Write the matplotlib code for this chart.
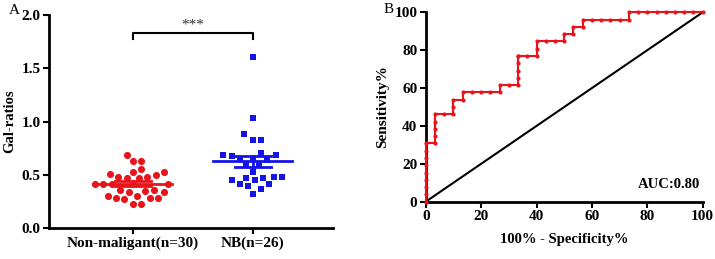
"""Gal-ratios scatter (A) and ROC curve (B)"""
import numpy as np
import matplotlib
matplotlib.use("Agg")
import matplotlib.pyplot as plt

plt.rcParams["font.family"] = ["Liberation Serif", "DejaVu Serif"]
plt.rcParams["font.weight"] = "bold"
plt.rcParams["axes.labelweight"] = "bold"

# panel A data
groups = ["Non-maligant(n=30)", "NB(n=26)"]
non_malignant = [0.69, 0.63, 0.63, 0.55, 0.53, 0.50, 0.48, 0.47, 0.47, 0.48,
                 0.51, 0.53, 0.41, 0.41, 0.41, 0.41, 0.41, 0.36, 0.34, 0.34,
                 0.35, 0.36, 0.30, 0.28, 0.27, 0.28, 0.28, 0.30, 0.23, 0.23]
nb = [1.61, 1.03, 0.88, 0.83, 0.83, 0.70, 0.69, 0.69, 0.68, 0.65, 0.64, 0.65,
      0.59, 0.59, 0.53, 0.48, 0.47, 0.45, 0.45, 0.47, 0.48, 0.41, 0.41, 0.37,
      0.39, 0.32]

# panel B data: ROC steps as counts (false positives of 30, true positives of 26)
n_ctrl, n_case = 30, 26
fp_count = [0, 0, 0, 0, 0, 0, 0, 0, 0, 1, 1, 1, 1, 1, 2, 3, 3, 3, 4, 4, 5, 6,
            7, 8, 8, 9, 10, 10, 10, 10, 10, 10, 11, 12, 12, 12, 13, 14, 15, 15,
            16, 16, 17, 17, 18, 19, 20, 21, 22, 22, 23, 24, 25, 26, 27, 28, 29,
            30]
tp_count = [0, 1, 2, 3, 4, 5, 6, 7, 8, 8, 9, 10, 11, 12, 12, 12, 13, 14, 14,
            15, 15, 15, 15, 15, 16, 16, 16, 17, 18, 19, 20, 20, 20, 20, 21, 22,
            22, 22, 22, 23, 23, 24, 24, 25, 25, 25, 25, 25, 25, 26, 26, 26, 26,
            26, 26, 26, 26, 26]
auc_text = "AUC:0.80"

RED = "#e8141c"
BLUE = "#1414e6"


def swarm(values, diam_px, px_per_x, px_per_y):
    """simple beeswarm offsets (in x data units)"""
    order = np.argsort(values)
    placed = []
    offs = np.zeros(len(values))
    step = diam_px / 4.0
    for i in order:
        y = values[i] * px_per_y
        best = None
        for k in range(0, 200):
            for cand in ([0.0] if k == 0 else [k * step, -k * step]):
                ok = all((cand - px) ** 2 + (y - py) ** 2 >= diam_px ** 2
                         for px, py in placed)
                if ok:
                    best = cand
                    break
            if best is not None:
                break
        placed.append((best, y))
        offs[i] = best / px_per_x
    return offs


fig = plt.figure(figsize=(7.15, 2.59), dpi=100)
axA = fig.add_axes([0.0685, 0.1197, 0.397, 0.822])
axB = fig.add_axes([0.5954, 0.2212, 0.3874, 0.7313])

for ax in (axA, axB):
    for s in ("top", "right"):
        ax.spines[s].set_visible(False)
    for s in ("left", "bottom"):
        ax.spines[s].set_linewidth(2)
    ax.tick_params(width=1.5, length=4, labelsize=11, pad=2)

# ---- panel A
for i, (vals, col, mk, sz) in enumerate([(non_malignant, RED, "o", 26),
                                          (nb, BLUE, "s", 20)]):
    vals = np.array(vals)
    xo = swarm(vals, 8.4, 120.0, 106.5)
    axA.scatter(i + xo, vals, s=sz, marker=mk, color=col, linewidths=0,
                zorder=3)
    m = vals.mean()
    sem = vals.std(ddof=1) / np.sqrt(len(vals))
    axA.plot([i - 0.33, i + 0.33], [m, m], color=col, lw=2, zorder=4)
    axA.plot([i, i], [m - sem, m + sem], color=col, lw=2, zorder=4)
    for v in (m - sem, m + sem):
        axA.plot([i - 0.15, i + 0.15], [v, v], color=col, lw=2, zorder=4)

axA.plot([0, 0, 1, 1], [1.78, 1.83, 1.83, 1.78], color="black", lw=1.5)
axA.text(0.5, 1.845, "***", ha="center", va="bottom", fontsize=11,
         color="#333333", fontweight="normal")
axA.set_xlim(-0.7, 1.67)
axA.set_ylim(0, 2.0)
axA.set_yticks([0, 0.5, 1.0, 1.5, 2.0])
axA.set_yticklabels(["0.0", "0.5", "1.0", "1.5", "2.0"])
axA.set_xticks([0, 1])
axA.set_xticklabels(groups, fontsize=11)
axA.set_ylabel("Gal-ratios", fontsize=10.5, labelpad=4)

# ---- panel B
fpr = np.array(fp_count) / n_ctrl * 100
tpr = np.array(tp_count) / n_case * 100
axB.plot([0, 100], [0, 100], color="black", lw=1.5, zorder=2)
axB.plot(fpr, tpr, color=RED, lw=1.5, marker="o", markersize=2.0,
         clip_on=False, zorder=3)
axB.set_xlim(0, 100)
axB.set_ylim(0, 100)
axB.set_xticks(range(0, 101, 20))
axB.set_yticks(range(0, 101, 20))
axB.set_xlabel("100% - Specificity%", fontsize=10.5, labelpad=7)
axB.set_ylabel("Sensitivity%", fontsize=11, labelpad=4)
axB.text(99, 9, auc_text, ha="right", va="center", fontsize=10.5)

fig.text(0.012, 0.945, "A", fontsize=11, fontweight="normal")
fig.text(0.536, 0.948, "B", fontsize=11, fontweight="normal")

fig.savefig("out.png", dpi=100)
